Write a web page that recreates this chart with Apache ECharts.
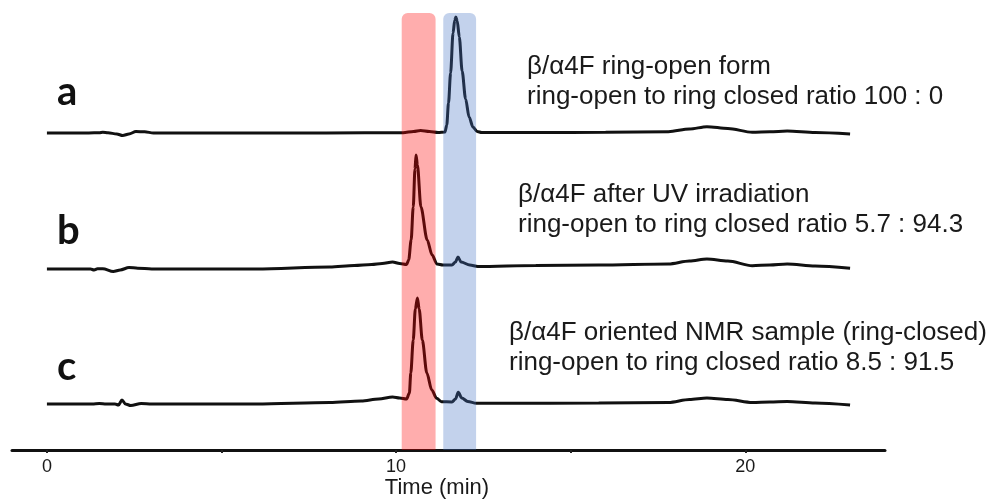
<!DOCTYPE html>
<html>
<head>
<meta charset="utf-8">
<script src="https://cdn.jsdelivr.net/npm/echarts@6/dist/echarts.min.js"></script>
<style>
  html, body { margin: 0; padding: 0; background: #fff; }
  #chart { width: 991px; height: 499px; }
</style>
</head>
<body>
<div id="chart"></div>
<script>
// HPLC traces of β/α4F samples: retention time (min) vs detector response (a.u.)

// trace a: ring-open form
const timesA = [0, 1.2, 1.5, 1.6, 1.75, 2.0, 2.17, 2.35, 2.55, 2.8, 3.05, 5, 8, 10.2, 10.5, 10.7, 10.95, 11.2,
  11.40, 11.45, 11.50, 11.56, 11.63, 11.68, 11.71, 11.75, 11.81, 11.89, 11.99, 12.09, 12.20, 12.32, 12.45,
  14, 16, 17.8, 18.4, 18.9, 19.5, 20.2, 20.7, 21.2, 22.0, 23.0];
const signalA = [0, 0, 0.3, 0.8, 0.2, -1, -2.5, -1, 1.5, 1.2, 0, 0, 0, 0.3, 1.5, 2.5, 1.5, 0.5,
  1, 8, 30, 60, 100, 113, 116, 112, 96, 62, 34, 16, 6, 1.5, 0.5,
  0.5, 0.7, 1.3, 4, 6.3, 4.5, 0.7, 1.2, 2, 0.5, -1];

// trace b: after UV irradiation
const timesB = [0, 1.25, 1.35, 1.45, 1.6, 1.9, 2.1, 2.35, 2.6, 3.0, 6, 8.1, 8.8, 9.3, 9.6, 9.9, 10.1, 10.30,
  10.36, 10.43, 10.49, 10.54, 10.57, 10.61, 10.71, 10.89, 11.03, 11.17, 11.34, 11.6, 11.7, 11.77, 11.86, 12.11, 12.34,
  14, 15.8, 17.8, 18.4, 18.9, 19.5, 20.2, 20.7, 21.2, 22.0, 23.0];
const signalB = [0, 0, -1, 0.3, 0.3, -2.5, -1, 1.5, 0.8, 0, 0, 2, 3.5, 4.5, 5.5, 7, 5.5, 4.5,
  9, 29, 62, 100, 114, 104, 62, 29, 14, 5, 4, 4, 7, 12, 7, 4, 2.5,
  3.5, 4, 5, 8, 10, 8, 3.3, 4, 5, 3, 0.7];

// trace c: oriented NMR sample (ring-closed)
const timesC = [0, 1.3, 1.5, 1.7, 1.95, 2.05, 2.15, 2.25, 2.4, 2.7, 3.0, 6, 8.1, 9.0, 9.5, 9.9, 10.1, 10.30,
  10.38, 10.42, 10.49, 10.55, 10.61, 10.66, 10.75, 10.88, 11.02, 11.16, 11.30, 11.6, 11.7, 11.78, 11.88, 12.05, 12.3,
  13, 15.8, 17.8, 18.4, 18.9, 19.5, 20.2, 20.7, 21.2, 22.0, 23.0];
const signalC = [0, 0, 0.5, 0, 0, -1, 4, 0, -1.5, 0.5, 0, 0, 1.5, 3, 5, 7, 6, 5,
  11, 31, 64, 95, 106, 95, 64, 31, 14, 5.7, 2.3, 2, 5, 11.7, 6, 2.5, 0.7,
  0.7, 1, 1.5, 4.5, 6, 4.5, 1.5, 2, 2.5, 1, -1];

// vertical offsets used to stack the three chromatograms
const traceOffsets = [317, 181, 46];

// retention windows of the ring-closed (red) and ring-open (blue) species
const bandWindows = [[10.16, 11.13], [11.35, 12.29]];
const bandTop = 437;

// axis ticks and labels
const tickValues = [0, 5, 10, 15, 20];
const labelValues = [0, 10, 20];

const traceLabels = ['a', 'b', 'c'];
const noteLines = [
  ['β/α4F ring-open form', 'ring-open to ring closed ratio 100 : 0'],
  ['β/α4F after UV irradiation', 'ring-open to ring closed ratio 5.7 : 94.3'],
  ['β/α4F oriented NMR sample (ring-closed)', 'ring-open to ring closed ratio 8.5 : 91.5']
];

function buildTrace(times, signal, offset) {
  return times.map((t, i) => [t, signal[i] + offset]);
}

const chart = echarts.init(document.getElementById('chart'), null, { renderer: 'canvas' });

const traces = [
  buildTrace(timesA, signalA, traceOffsets[0]),
  buildTrace(timesB, signalB, traceOffsets[1]),
  buildTrace(timesC, signalC, traceOffsets[2])
];

const lineSeries = traces.map((d, i) => ({
  type: 'line',
  name: traceLabels[i],
  data: d,
  showSymbol: false,
  smooth: 0.3,
  smoothMonotone: 'x',
  lineStyle: { color: '#111', width: 3 },
  z: 2,
  silent: true
}));

const bandColors = ['#ff0000', '#4472c4'];

const bandSeries = {
  type: 'custom',
  data: bandWindows.map((w, i) => [w[0], w[1], i]),
  encode: { x: [0, 1] },
  z: 5,
  silent: true,
  renderItem: function (params, api) {
    const p0 = api.coord([api.value(0), bandTop]);
    const p1 = api.coord([api.value(1), 0]);
    return {
      type: 'rect',
      shape: { x: p0[0], y: p0[1], width: p1[0] - p0[0], height: p1[1] - p0[1], r: [6, 6, 0, 0] },
      style: { fill: bandColors[api.value(2)], opacity: 0.32 }
    };
  }
};

// label positions (px)
const letterPos = [[57, 92], [57, 231], [57, 367]];
const notePos = [[527, 67], [518, 195], [509, 333]];
const noteGap = 30;

const graphics = [];
traceLabels.forEach((t, i) => {
  graphics.push({
    type: 'text', left: letterPos[i][0], top: letterPos[i][1] - 20, z: 10,
    style: { text: t, font: 'bold 40px Lato, "Liberation Sans", sans-serif', fill: '#111' }
  });
  noteLines[i].forEach((line, j) => {
    graphics.push({
      type: 'text', x: notePos[i][0], y: notePos[i][1] + j * noteGap, z: 10,
      style: { text: line, font: '26px "Liberation Sans", Arial, sans-serif', fill: '#1a1a1a', verticalAlign: 'middle' }
    });
  });
});
graphics.push({
  type: 'text', x: 437, y: 488, z: 10,
  style: { text: 'Time (min)', font: '22px "Liberation Sans Narrow", "Liberation Sans", sans-serif', fill: '#1a1a1a', align: 'center', verticalAlign: 'middle' }
});

chart.setOption({
  animation: false,
  backgroundColor: '#fff',
  grid: { left: 12, right: 106, top: 0, bottom: 49, containLabel: false },
  xAxis: {
    type: 'value',
    min: -1,
    max: 24,
    splitLine: { show: false },
    axisLine: { show: true, onZero: false, lineStyle: { color: '#111', width: 3 } },
    axisTick: { show: true, customValues: tickValues, length: 3, lineStyle: { color: '#222', width: 2 } },
    axisLabel: { show: true, customValues: labelValues, color: '#1a1a1a', fontSize: 18, margin: 8,
      fontFamily: '"Liberation Sans", Arial, sans-serif' }
  },
  yAxis: {
    type: 'value', min: 0, max: 450, show: false
  },
  series: [...lineSeries, bandSeries],
  graphic: graphics
});
</script>
</body>
</html>
